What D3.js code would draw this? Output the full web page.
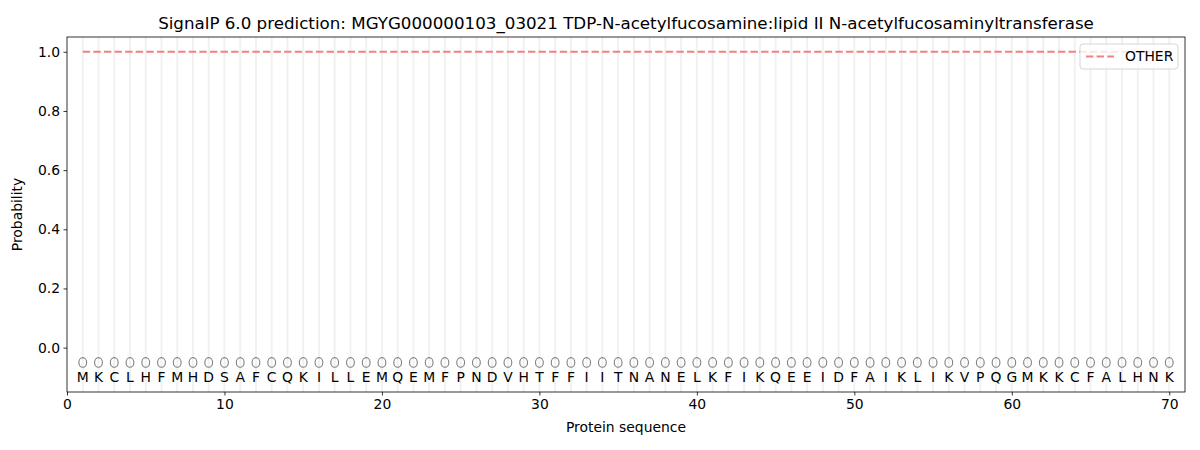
<!DOCTYPE html>
<html>
<head>
<meta charset="utf-8">
<script src="https://cdn.jsdelivr.net/npm/d3@7"></script>
<style>
  body { margin: 0; background: #fff; }
  text { font-family: "DejaVu Sans", sans-serif; fill: #000; }
</style>
</head>
<body>
<div id="chart"></div>
<script>
// Residues of the protein, one per position
const residues = ['M','K','C','L','H','F','M','H','D','S','A','F','C','Q','K','I','L','L','E','M',
  'Q','E','M','F','P','N','D','V','H','T','F','F','I','I','T','N','A','N','E','L',
  'K','F','I','K','Q','E','E','I','D','F','A','I','K','L','I','K','V','P','Q','G',
  'M','K','K','C','F','A','L','H','N','K'];
// Probability of OTHER at each position
const otherProb = [1,1,1,1,1,1,1,1,1,1,1,1,1,1,1,1,1,1,1,1,
  1,1,1,1,1,1,1,1,1,1,1,1,1,1,1,1,1,1,1,1,
  1,1,1,1,1,1,1,1,1,1,1,1,1,1,1,1,1,1,1,1,
  1,1,1,1,1,1,1,1,1,1];
const xTicks = [0, 10, 20, 30, 40, 50, 60, 70];
const yTicks = [0.0, 0.2, 0.4, 0.6, 0.8, 1.0];

const W = 1200, H = 450;
const margin = { top: 37, right: 15, bottom: 58, left: 67 };
const width = W - margin.left - margin.right;
const height = H - margin.top - margin.bottom;

const svg = d3.select('#chart').append('svg')
    .attr('width', W).attr('height', H);
const g = svg.append('g')
    .attr('transform', 'translate(' + margin.left + ',' + margin.top + ')');

const x = d3.scaleLinear().domain([0, 71]).range([0, width]);
const y = d3.scaleLinear().domain([-0.15, 1.05]).range([height, 0]);

const pos = residues.map((r, i) => i + 1);

// light vertical guides at every residue
g.selectAll('.vline').data(pos).enter().append('line')
    .attr('x1', d => x(d)).attr('x2', d => x(d))
    .attr('y1', 0).attr('y2', height)
    .attr('stroke', '#f1f1f1').attr('stroke-width', 2);

// OTHER line
const line = d3.line().x((d, i) => x(i + 1)).y(d => y(d));
g.append('path').datum(otherProb)
    .attr('d', line)
    .attr('fill', 'none')
    .attr('stroke', '#f28080')
    .attr('stroke-width', 2)
    .attr('stroke-dasharray', '7.4,3.2');

// position markers
g.selectAll('.mark').data(pos).enter().append('ellipse')
    .attr('cx', d => x(d)).attr('cy', y(-0.05))
    .attr('rx', 3.9).attr('ry', 4.8)
    .attr('fill', 'none').attr('stroke', '#808080').attr('stroke-width', 1.1);

// residue letters
g.selectAll('.res').data(residues).enter().append('text')
    .attr('x', (d, i) => x(i + 1)).attr('y', y(-0.1))
    .attr('dy', '0.35em')
    .attr('text-anchor', 'middle')
    .style('font-size', '13.9px')
    .text(d => d);

// axes
const xAxis = g.append('g')
    .attr('transform', 'translate(0,' + height + ')')
    .call(d3.axisBottom(x).tickValues(xTicks).tickFormat(d3.format('d')).tickSize(3.5).tickPadding(3.5));
const yAxis = g.append('g')
    .call(d3.axisLeft(y).tickValues(yTicks).tickFormat(d3.format('.1f')).tickSize(3.5).tickPadding(3.5));
[xAxis, yAxis].forEach(a => {
    a.selectAll('text').style('font-size', '13.9px').style('font-family', '"DejaVu Sans", sans-serif');
    a.selectAll('line').attr('stroke', '#000').attr('stroke-width', 0.8);
    a.select('.domain').remove();
});

// frame
g.append('rect')
    .attr('width', width).attr('height', height)
    .attr('fill', 'none').attr('stroke', '#000').attr('stroke-width', 0.8);

// labels
g.append('text')
    .attr('x', width / 2).attr('y', height + 40)
    .attr('text-anchor', 'middle')
    .style('font-size', '13.9px')
    .text('Protein sequence');
g.append('text')
    .attr('transform', 'translate(' + (-45) + ',' + (height / 2) + ') rotate(-90)')
    .attr('text-anchor', 'middle')
    .style('font-size', '13.9px')
    .text('Probability');
svg.append('text')
    .attr('x', margin.left + width / 2).attr('y', 29)
    .attr('text-anchor', 'middle')
    .style('font-size', '16.7px')
    .text('SignalP 6.0 prediction: MGYG000000103_03021 TDP-N-acetylfucosamine:lipid II N-acetylfucosaminyltransferase');

// legend
const lg = g.append('g').attr('transform', 'translate(' + (width - 105) + ',7)');
lg.append('rect')
    .attr('width', 98).attr('height', 25).attr('rx', 3)
    .attr('fill', '#fff').attr('fill-opacity', 0.8)
    .attr('stroke', '#d5d5d5').attr('stroke-width', 1);
lg.append('line')
    .attr('x1', 6).attr('x2', 34).attr('y1', 12.5).attr('y2', 12.5)
    .attr('stroke', '#f28080').attr('stroke-width', 2)
    .attr('stroke-dasharray', '7.4,3.2');
lg.append('text')
    .attr('x', 45).attr('y', 12.5).attr('dy', '0.35em')
    .style('font-size', '13.9px')
    .text('OTHER');
</script>
</body>
</html>
